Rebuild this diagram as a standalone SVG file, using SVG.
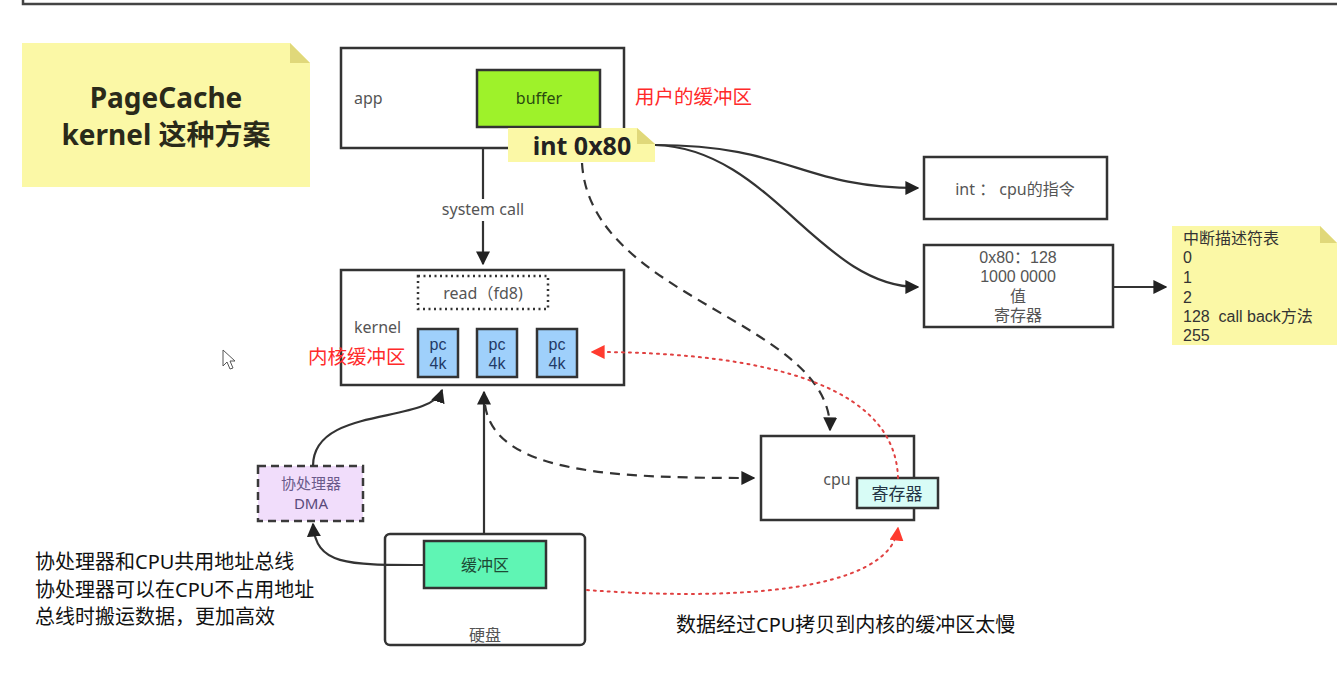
<svg xmlns="http://www.w3.org/2000/svg" width="1337" height="676" viewBox="0 0 1337 676">
<defs>
<style>
text{font-family:"Noto Sans","Noto Sans CJK SC",sans-serif;}
.tight{font-family:"Liberation Sans","Noto Sans CJK SC",sans-serif;}
.box{fill:#fff;stroke:#333;stroke-width:2.5;}
.lbl{font-size:16px;fill:#555;}
.ctr{text-anchor:middle;}
.red{fill:#ff2a2a;font-size:19.5px;}
.note{fill:#fbf8a6;}
.fold{fill:#e0d87a;}
.pc{fill:#9fd0fb;stroke:#333;stroke-width:2.5;}
.pct{font-family:"Liberation Sans",sans-serif;font-size:16px;fill:#1f3a66;text-anchor:middle;}
.con{fill:none;stroke:#333;stroke-width:2.2;}
.dash{stroke-dasharray:10 7;}
.rdot{fill:none;stroke:#e04040;stroke-width:2;stroke-dasharray:2 5;stroke-linecap:round;}
.blk{font-size:20px;fill:#111;}
</style>
<marker id="ahb" viewBox="0 0 10 10" refX="9" refY="5" markerWidth="14" markerHeight="14" orient="auto" markerUnits="userSpaceOnUse">
<path d="M0,0 L10,5 L0,10 z" fill="#222"/>
</marker>
<marker id="ahr" viewBox="0 0 10 10" refX="9" refY="5" markerWidth="14" markerHeight="14" orient="auto" markerUnits="userSpaceOnUse">
<path d="M0,0 L10,5 L0,10 z" fill="#ff3b2f"/>
</marker>
</defs>
<rect width="1337" height="676" fill="#fff"/>
<path d="M23,0 L23,4 L1337,4" fill="none" stroke="#444" stroke-width="2.5"/>

<g id="title-note">
<path class="note" d="M22,43 L290,43 L310,63 L310,187 L22,187 z"/>
<path class="fold" d="M290,43 L310,63 L290,63 z"/>
<text x="166" y="108" class="ctr" style="font-size:28px;font-weight:bold;fill:#2a2a1a">PageCache</text>
<text x="166" y="145" class="ctr" style="font-size:28px;font-weight:bold;fill:#2a2a1a">kernel 这种方案</text>
</g>

<g id="app">
<rect class="box" x="341" y="48" width="283" height="100"/>
<text x="354" y="104" class="lbl">app</text>
</g>
<g id="buffer">
<rect x="477" y="70" width="123" height="57" fill="#9ef22a" stroke="#333" stroke-width="2.5"/>
<text x="539" y="104" class="ctr" style="font-size:16px;fill:#2a4a10">buffer</text>
</g>
<text x="635" y="104" class="red">用户的缓冲区</text>

<g id="int-note">
<path class="note" d="M508,128 L637,128 L655,144 L655,162 L508,162 z"/>
<path class="fold" d="M637,128 L655,144 L637,144 z"/>
<text x="582" y="155" class="ctr" style="font-size:25px;font-weight:bold;fill:#222">int 0x80</text>
</g>

<g id="int-box">
<rect class="box" x="924" y="157" width="183" height="62"/>
<text x="1015" y="195" class="ctr lbl">int ： cpu的指令</text>
</g>

<g id="register-box">
<rect class="box" x="924" y="245" width="189" height="82"/>
<text x="1018" y="263" class="ctr lbl tight">0x80：128</text>
<text x="1018" y="282" class="ctr lbl tight">1000 0000</text>
<text x="1018" y="302" class="ctr lbl tight">值</text>
<text x="1018" y="321" class="ctr lbl tight">寄存器</text>
</g>

<g id="idt-note">
<path class="note" d="M1172,226 L1320,226 L1337,243 L1337,345 L1172,345 z"/>
<path class="fold" d="M1320,226 L1337,243 L1320,243 z"/>
<g style="font-size:16px;fill:#333">
<text x="1183" y="244" class="tight">中断描述符表</text>
<text x="1183" y="263" class="tight">0</text>
<text x="1183" y="283" class="tight">1</text>
<text x="1183" y="303" class="tight">2</text>
<text x="1183" y="322" class="tight">128&#160; call back方法</text>
<text x="1183" y="341" class="tight">255</text>
</g>
</g>

<g id="kernel">
<rect class="box" x="341" y="270" width="283" height="115"/>
<text x="354" y="333" class="lbl">kernel</text>
</g>
<g id="read">
<rect x="418" y="276" width="130" height="33" fill="none" stroke="#333" stroke-width="2.5" stroke-dasharray="2 3.5"/>
<text x="483" y="299" class="ctr lbl">read（fd8)</text>
</g>
<g id="pc1"><rect class="pc" x="418" y="329" width="40" height="48"/><text x="438" y="350" class="pct">pc</text><text x="438" y="369" class="pct">4k</text></g>
<g id="pc2"><rect class="pc" x="477" y="329" width="40" height="48"/><text x="497" y="350" class="pct">pc</text><text x="497" y="369" class="pct">4k</text></g>
<g id="pc3"><rect class="pc" x="537" y="329" width="40" height="48"/><text x="557" y="350" class="pct">pc</text><text x="557" y="369" class="pct">4k</text></g>
<text x="308" y="364" class="red">内核缓冲区</text>

<g id="dma">
<rect x="258" y="466" width="105" height="55" fill="#f1ddfb" stroke="#3a3a3a" stroke-width="2.5" stroke-dasharray="8 5"/>
<text x="311" y="489" class="ctr" style="font-size:15px;fill:#6a5a8a">协处理器</text>
<text x="311" y="509" class="ctr" style="font-size:15px;fill:#5a4a7a">DMA</text>
</g>

<g id="cpu">
<rect class="box" x="761" y="436" width="153" height="84"/>
<text x="837" y="485" class="ctr lbl">cpu</text>
</g>
<g id="cpu-register">
<rect x="857" y="478" width="81" height="30" fill="#d8fcf6" stroke="#333" stroke-width="2.5"/>
<text x="897" y="500" class="ctr" style="font-size:17px;fill:#234">寄存器</text>
</g>

<g id="disk">
<rect class="box" x="385" y="534" width="200" height="111" rx="5"/>
<text x="485" y="641" class="ctr lbl">硬盘</text>
</g>
<g id="disk-buffer">
<rect x="424" y="541" width="122" height="47" fill="#5ff5b4" stroke="#333" stroke-width="2.5"/>
<text x="485" y="571" class="ctr" style="font-size:16px;fill:#1d4a35">缓冲区</text>
</g>

<g id="connectors">
<path class="con" d="M483,148 L483,264" marker-end="url(#ahb)"/>
<rect x="438" y="199" width="92" height="22" fill="#fff"/>
<text x="483" y="215" class="ctr lbl">system call</text>
<path class="con" d="M655,145 C 790,145 800,188 918,188" marker-end="url(#ahb)"/>
<path class="con" d="M655,145 C 770,148 820,287 918,287" marker-end="url(#ahb)"/>
<path class="con" d="M1113,287 L1166,287" marker-end="url(#ahb)"/>
<path class="con dash" d="M582,163 C 590,300 832,320 830,430" marker-end="url(#ahb)"/>
<path class="con" d="M484,533 L484,392" marker-end="url(#ahb)"/>
<path class="con dash" d="M485,405 C 495,475 620,478 754,478" marker-end="url(#ahb)"/>
<path class="con" d="M313,466 C 313,405 430,425 442,390" marker-end="url(#ahb)"/>
<path class="con" d="M424,565 C 345,565 316,565 313,524" marker-end="url(#ahb)"/>
<path class="rdot" d="M587,590 C 720,600 890,595 898,528" marker-end="url(#ahr)"/>
<path class="rdot" d="M898,478 C 895,370 720,352 592,352" marker-end="url(#ahr)"/>
</g>

<text x="35" y="569" class="blk">协处理器和CPU共用地址总线</text>
<text x="35" y="597" class="blk">协处理器可以在CPU不占用地址</text>
<text x="35" y="624" class="blk">总线时搬运数据，更加高效</text>
<text x="676" y="632" class="blk">数据经过CPU拷贝到内核的缓冲区太慢</text>

<path d="M223,350 L223,366 L227,362 L230,369 L233,368 L230,361 L235,361 z" fill="#fff" stroke="#555" stroke-width="1"/>
</svg>
